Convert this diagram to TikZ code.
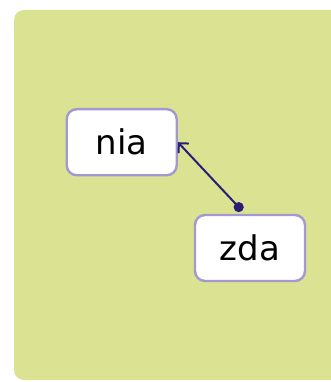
\documentclass[tikz,border=0pt]{standalone}
\usepackage{fontspec}
\setmainfont{DejaVu Sans}
\usetikzlibrary{arrows.meta,calc}
\definecolor{bgpanel}{RGB}{219,226,145}
\definecolor{boxline}{RGB}{163,153,210}
\definecolor{connline}{RGB}{40,30,120}
\tikzset{
  px/.style={x=1pt,y=-1pt},
  itembox/.style={draw=boxline, line width=2.4pt, fill=white, rounded corners=10pt,
    minimum width=110pt, minimum height=66pt, inner sep=0pt, font=\fontsize{34}{36}\selectfont},
  conn/.style={draw=connline, line width=2pt, {Circle[length=10pt]}-{Straight Barb[length=7pt,width=14pt]}}
}
\begin{document}
\begin{tikzpicture}[px]
\useasboundingbox (0,0) rectangle (331,382);
\fill[bgpanel, rounded corners=10pt] (14,10) rectangle (345,380);
\node[itembox] (nia) at (121.7,142.2) {nia};
\node[itembox] (zda) at (250,248) {zda};
\coordinate (zs) at ($(zda.north)+(-11.3,-6.7)$);
\draw[conn, shorten <=-5pt] (zs) -- (nia.east);
\end{tikzpicture}
\end{document}
